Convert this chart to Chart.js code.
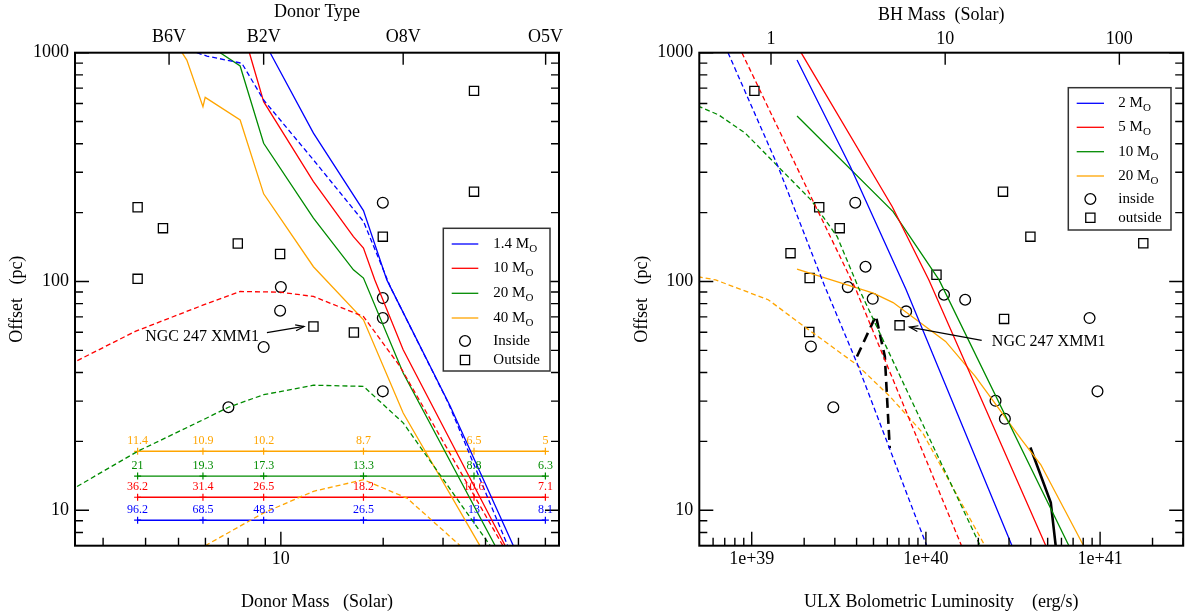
<!DOCTYPE html>
<html>
<head>
<meta charset="utf-8">
<script src="https://cdn.jsdelivr.net/npm/chart.js@4.4.1/dist/chart.umd.min.js"></script>
<style>
  html, body { margin: 0; padding: 0; background: #fff; }
  #wrap { position: relative; width: 1191px; height: 616px; overflow: hidden; }
  canvas { position: absolute; top: 0; }
  #left { left: 0; }
  #right { left: 600px; }
</style>
</head>
<body>
<div id="wrap">
  <canvas id="left" width="600" height="616"></canvas>
  <canvas id="right" width="591" height="616"></canvas>
</div>
<script>
/* ULX offset plots: offset vs donor mass (left), offset vs luminosity (right) */
const FONT = '"Liberation Serif", "Times New Roman", serif';
const BLUE = '#0000ff', RED = '#ff0000', GREEN = '#008b00', ORANGE = '#ffa500';

// ---------- left panel data (donor mass in Msun, offset in pc) ----------
const DONOR_TYPES = ['B6V', 'B2V', 'O8V', 'O5V'];
const DONOR_TYPE_MASS = [4.69, 8.9, 22.9, 60.1];

const ns14Solid  = [[9.3,1000],[12.47,445],[17.5,204],[20.5,101.6],[31.5,28.5],[48.3,7]];
const ns14Dash   = [[5.66,1000],[6.06,967],[7.68,899],[8.9,621],[12.47,340],[17.5,183],[20.97,95],[31.1,29.4],[46.5,7]];
const bh10Solid  = [[8.08,1000],[8.9,611],[12.47,273.5],[16.35,157],[17.5,140],[18.9,101.6],[22.9,50.3],[45.7,7]];
const bh10Dash   = [[2.4,43.5],[3.73,60.5],[5.92,79],[7.59,90.4],[9.95,89.8],[12.47,86],[17.5,70.3],[22.4,42.6],[45,7]];
const bh20Solid  = [[6.63,1000],[7.59,875],[8.9,402],[12.47,189],[16.35,112.5],[17.5,103.5],[22.9,39.8],[42.7,7]];
const bh20Dash   = [[2.4,12.2],[3.79,18.1],[5.92,24.9],[7.01,28.2],[8.9,32],[12.47,35.2],[17.5,34.8],[22.9,24.1],[41.3,7]];
const bh40Solid  = [[5.12,1000],[5.29,929],[5.9,581],[5.99,638],[7.59,508],[8.9,241.6],[12.47,116],[17.5,68],[22.9,26.6],[38.5,7]];
const bh40Dash   = [[5.99,7],[8.9,9.74],[12.47,12.1],[17.5,13.6],[23.5,11.3],[33.7,7]];

const LEVEL_MASS = [3.79, 5.9, 8.9, 17.5, 37, 60];
const LEVEL_OFFSET = [18.1, 14.1, 11.4, 9.05];      // 40, 20, 10, 1.4 Msun rows
const LEVEL_TEXT = [
  ['11.4','10.9','10.2','8.7','6.5','5'],
  ['21','19.3','17.3','13.3','8.8','6.3'],
  ['36.2','31.4','26.5','18.2','10.6','7.1'],
  ['96.2','68.5','48.5','26.5','13','8.1'],
];
const LEVEL_COLORS = [ORANGE, GREEN, RED, BLUE];

const leftOutside = [[3.79,211],[4.5,171],[7.47,146.6],[9.95,131.8],[3.79,102.7],[19.95,157],[37,681],[37,247],[12.47,63.6],[16.4,59.8]];
const leftInside  = [[19.95,221],[10,94.5],[9.95,74.5],[19.95,84.6],[19.95,69.2],[8.9,51.7],[7.01,28.2],[19.95,33.1]];

// ---------- right panel data (luminosity in erg/s, offset in pc) ----------
const LUM_PER_MSUN = 1.29e39;
const m2Solid   = [[1.82e39,929],[3.68e39,318],[7.7e39,92],[31.2e39,7]];
const m5Solid   = [[1.92e39,1000],[6.4e39,212.6],[10.4e39,101.6],[48.8e39,7]];
const m10Solid  = [[1.82e39,529],[6.48e39,202],[11.9e39,101.6],[66.2e39,7]];
const m20Solid  = [[1.82e39,113.3],[4.99e39,89],[6.48e39,80.9],[12.97e39,54.7],[19.2e39,38.5],[35.3e39,20.4],[45.7e39,15.8],[80.4e39,7]];
const m2Dash    = [[0.731e39,1000],[1.416e39,318],[2.6e39,97],[4.02e39,44],[10.1e39,7]];
const m5Dash    = [[0.878e39,1000],[2.186e39,235],[3.93e39,93.6],[16e39,7]];
const m10Dash   = [[0.49e39,585],[0.648e39,534],[0.918e39,445],[1.416e39,318],[2.186e39,227.5],[3.095e39,157],[4.11e39,93.6],[8.05e39,31.5],[20.5e39,7]];
const m20Dash   = [[0.49e39,105],[0.62e39,101.6],[1.243e39,83.2],[2.0e39,63.6],[4.02e39,43.2],[6.2e39,31.5],[9.58e39,21.8],[21.8e39,7]];
const blackDash = [[4.02e39,47],[5.16e39,70.8],[5.81e39,47],[6.2e39,18.7]];
const blackSolid = [[39.8e39,18.8],[52.1e39,10.8],[55.6e39,7]];

const rightOutside = [[1.036e39,681],[2.44e39,211],[3.2e39,171],[1.67e39,133],[2.15e39,103.5],[27.7e39,247],[39.8e39,157],[177e39,147],[11.5e39,107],[2.14e39,60.1],[7.06e39,64.3],[28.1e39,68.6]];
const rightInside  = [[3.93e39,221],[4.5e39,116],[3.56e39,94.5],[4.95e39,84],[7.7e39,74],[12.7e39,87.5],[16.8e39,83.2],[87e39,69.2],[2.186e39,52],[2.94e39,28.2],[25.1e39,30.1],[28.4e39,25.1],[96.6e39,33.1]];

// ---------- axis ranges and ticks ----------
const OFFSET_MIN = 7, OFFSET_MAX = 1000;
const OFFSET_LABELS = [10, 100, 1000];
const OFFSET_MINOR = [8,9,20,30,40,50,60,70,80,90,200,300,400,500,600,700,800,900];
const MASS_MIN = 2.48, MASS_MAX = 65.8;
const MASS_LABELS = [10];
const MASS_MINOR = [3,4,5,6,7,8,9,20,30,40,50,60];
const LUM_MIN = 5e38, LUM_MAX = 3e41;
const LUM_LABELS = [1e39, 1e40, 1e41];
const LUM_MINOR = [6e38,7e38,8e38,9e38,2e39,3e39,4e39,5e39,6e39,7e39,8e39,9e39,2e40,3e40,4e40,5e40,6e40,7e40,8e40,9e40,2e41,3e41];
const BH_LABELS = [1, 10, 100];

const pts = a => a.map(([x, y]) => ({x, y}));

function curve(data, color, dashed, width) {
  return {
    data: pts(data), showLine: true, borderColor: color, backgroundColor: color,
    borderWidth: width || 1.3, borderDash: dashed ? (width ? [10, 6] : [5, 3]) : [],
    pointRadius: 0, tension: 0, clip: 0, xAxisID: 'x', yAxisID: 'y',
  };
}
function marks(data, style) {
  return {
    data: pts(data), showLine: false, pointStyle: style,
    pointRadius: style === 'rect' ? 6.5 : 5.4, borderColor: '#000',
    backgroundColor: 'rgba(0,0,0,0)', pointBorderWidth: 1.3, xAxisID: 'x', yAxisID: 'y',
  };
}
function levelLine(i) {
  return {
    data: LEVEL_MASS.map(m => ({x: m, y: LEVEL_OFFSET[i]})), showLine: true,
    borderColor: LEVEL_COLORS[i], backgroundColor: LEVEL_COLORS[i], borderWidth: 1.4,
    pointStyle: 'cross', pointRadius: 3.5, pointBorderWidth: 1.2, clip: 0, xAxisID: 'x', yAxisID: 'y',
  };
}

// frame + inward ticks
const frameTicks = {
  id: 'frameTicks',
  afterDatasetsDraw(chart, args, o) {
    const {ctx, chartArea: a, scales} = chart;
    ctx.save();
    ctx.strokeStyle = '#000';
    ctx.lineWidth = 1.4;
    ctx.beginPath();
    const seg = (x1, y1, x2, y2) => { ctx.moveTo(x1, y1); ctx.lineTo(x2, y2); };
    o.yMajor.forEach(v => { const y = scales.y.getPixelForValue(v); seg(a.left, y, a.left + 14, y); seg(a.right, y, a.right - 14, y); });
    o.yMinor.forEach(v => { const y = scales.y.getPixelForValue(v); seg(a.left, y, a.left + 8, y); seg(a.right, y, a.right - 8, y); });
    o.xMajor.forEach(v => { const x = scales.x.getPixelForValue(v); seg(x, a.bottom, x, a.bottom - 14); });
    o.xMinor.forEach(v => { const x = scales.x.getPixelForValue(v); seg(x, a.bottom, x, a.bottom - 8); });
    o.topMajor.forEach(v => { const x = scales.x2.getPixelForValue(v); seg(x, a.top, x, a.top + 12); });
    ctx.stroke();
    ctx.lineWidth = 2;
    ctx.strokeRect(a.left, a.top, a.right - a.left, a.bottom - a.top);
    ctx.restore();
  }
};

function subText(ctx, x, y, main, sub) {
  ctx.font = '15px ' + FONT;
  ctx.textAlign = 'left';
  ctx.textBaseline = 'middle';
  ctx.fillText(main, x, y);
  if (sub) {
    const w = ctx.measureText(main).width;
    ctx.font = '11px ' + FONT;
    ctx.fillText(sub, x + w, y + 5);
  }
}

const legendBox = {
  id: 'legendBox',
  afterDraw(chart, args, o) {
    const ctx = chart.ctx;
    const [x0, y0, x1, y1] = o.box;
    ctx.save();
    ctx.fillStyle = '#fff';
    ctx.fillRect(x0, y0, x1 - x0, y1 - y0);
    ctx.strokeStyle = '#333';
    ctx.lineWidth = 1.5;
    ctx.strokeRect(x0, y0, x1 - x0, y1 - y0);
    o.rows.forEach((r, i) => {
      const y = o.rowY[i];
      const cx = (o.lineX[0] + o.lineX[1]) / 2;
      ctx.lineWidth = 1.3;
      if (r.color) {
        ctx.strokeStyle = r.color;
        ctx.beginPath(); ctx.moveTo(o.lineX[0], y); ctx.lineTo(o.lineX[1], y); ctx.stroke();
      } else {
        ctx.strokeStyle = '#000';
        ctx.beginPath();
        if (r.style === 'circle') ctx.arc(cx, y, 5.4, 0, Math.PI * 2);
        else ctx.rect(cx - 4.6, y - 4.6, 9.2, 9.2);
        ctx.stroke();
      }
      ctx.fillStyle = '#000';
      subText(ctx, o.textX, y, r.label, r.sub);
    });
    ctx.restore();
  }
};

function arrow(ctx, x1, y1, x2, y2) {
  ctx.beginPath(); ctx.moveTo(x1, y1); ctx.lineTo(x2, y2); ctx.stroke();
  const a = Math.atan2(y2 - y1, x2 - x1), L = 9, w = 0.33;
  ctx.beginPath();
  ctx.moveTo(x2 - L * Math.cos(a - w), y2 - L * Math.sin(a - w));
  ctx.lineTo(x2, y2);
  ctx.lineTo(x2 - L * Math.cos(a + w), y2 - L * Math.sin(a + w));
  ctx.stroke();
}

// level labels and source annotation
const notes = {
  id: 'notes',
  afterDatasetsDraw(chart, args, o) {
    const {ctx, scales} = chart;
    const X = v => scales.x.getPixelForValue(v), Y = v => scales.y.getPixelForValue(v);
    ctx.save();
    if (o.levels) {
      ctx.font = '12px ' + FONT;
      ctx.textAlign = 'center';
      ctx.textBaseline = 'middle';
      LEVEL_TEXT.forEach((row, i) => {
        ctx.fillStyle = LEVEL_COLORS[i];
        row.forEach((t, j) => ctx.fillText(t, X(LEVEL_MASS[j]), Y(LEVEL_OFFSET[i]) - 10.5));
      });
    }
    const n = o.note;
    ctx.fillStyle = '#000';
    ctx.strokeStyle = '#000';
    ctx.lineWidth = 1.2;
    ctx.font = '16px ' + FONT;
    ctx.textAlign = 'left';
    ctx.textBaseline = 'middle';
    ctx.fillText('NGC 247 XMM1', X(n.text[0]), Y(n.text[1]));
    arrow(ctx, X(n.from[0]), Y(n.from[1]), X(n.to[0]), Y(n.to[1]));
    ctx.restore();
  }
};

const tickFont = {family: FONT, size: 18};
const titleFont = {family: FONT, size: 18};

function logAxis(pos, min, max, labels, fmt, size, titleText, titlePad, pad) {
  const horiz = pos === 'top' || pos === 'bottom';
  return {
    type: 'logarithmic', position: pos, min, max, bounds: 'data',
    grid: {display: false, drawTicks: false}, border: {display: false},
    afterBuildTicks: s => { s.ticks = labels.map(v => ({value: v})); },
    afterFit: s => { if (horiz) s.height = size; else s.width = size; },
    ticks: {autoSkip: false, maxRotation: 0, minRotation: 0, padding: pad, color: '#000', font: tickFont,
            callback: (v, i) => fmt(v, i)},
    title: {display: true, text: titleText, color: '#000', font: titleFont, padding: titlePad},
  };
}

const common = {
  responsive: false, animation: false,
  plugins: {legend: {display: false}, tooltip: {enabled: false}},
};

// ---------- left chart ----------
new Chart(document.getElementById('left'), {
  type: 'scatter',
  data: {
    datasets: [
      curve(ns14Solid, BLUE), curve(ns14Dash, BLUE, true),
      curve(bh10Solid, RED), curve(bh10Dash, RED, true),
      curve(bh20Solid, GREEN), curve(bh20Dash, GREEN, true),
      curve(bh40Solid, ORANGE), curve(bh40Dash, ORANGE, true),
      levelLine(0), levelLine(1), levelLine(2), levelLine(3),
      marks(leftInside, 'circle'), marks(leftOutside, 'rect'),
    ],
  },
  options: {
    ...common,
    layout: {padding: {left: 0, right: 41, top: 0, bottom: 0}},
    scales: {
      x: logAxis('bottom', MASS_MIN, MASS_MAX, MASS_LABELS, v => String(v), 70.3, 'Donor Mass   (Solar)', {top: 0, bottom: 3}, 3),
      x2: logAxis('top', MASS_MIN, MASS_MAX, DONOR_TYPE_MASS, (v, i) => DONOR_TYPES[i], 52.7, 'Donor Type', {top: 1, bottom: 0}, 5),
      y: logAxis('left', OFFSET_MIN, OFFSET_MAX, OFFSET_LABELS, v => String(v), 75, 'Offset   (pc)', {top: 6, bottom: 0}, 6),
    },
    plugins: {
      ...common.plugins,
      frameTicks: {yMajor: OFFSET_LABELS, yMinor: OFFSET_MINOR, xMajor: MASS_LABELS, xMinor: MASS_MINOR, topMajor: DONOR_TYPE_MASS},
      notes: {levels: true, note: {text: [3.99, 57.5], from: [9.1, 59.8], to: [11.7, 63.6]}},
      legendBox: {
        box: [443.3, 228.3, 550, 371], lineX: [451.7, 478.3], textX: 493.3,
        rowY: [244, 268.3, 293.3, 318, 341, 360],
        rows: [
          {color: BLUE, label: '1.4 M', sub: 'O'}, {color: RED, label: '10 M', sub: 'O'},
          {color: GREEN, label: '20 M', sub: 'O'}, {color: ORANGE, label: '40 M', sub: 'O'},
          {style: 'circle', label: 'Inside'}, {style: 'rect', label: 'Outside'},
        ],
      },
    },
  },
  plugins: [frameTicks, notes, legendBox],
});

// ---------- right chart ----------
const expLabel = v => '1e+' + Math.round(Math.log10(v));
new Chart(document.getElementById('right'), {
  type: 'scatter',
  data: {
    datasets: [
      curve(m2Dash, BLUE, true), curve(m5Dash, RED, true),
      curve(m10Dash, GREEN, true), curve(m20Dash, ORANGE, true),
      curve(m2Solid, BLUE), curve(m5Solid, RED),
      curve(m10Solid, GREEN), curve(m20Solid, ORANGE),
      curve(blackDash, '#000', true, 2.6), curve(blackSolid, '#000', false, 2.6),
      marks(rightInside, 'circle'), marks(rightOutside, 'rect'),
    ],
  },
  options: {
    ...common,
    layout: {padding: {left: 0, right: 1, top: 0, bottom: 0}},
    scales: {
      x: logAxis('bottom', LUM_MIN, LUM_MAX, LUM_LABELS, expLabel, 70.3, 'ULX Bolometric Luminosity    (erg/s)', {top: 0, bottom: 3}, 3),
      x2: logAxis('top', LUM_MIN / LUM_PER_MSUN, LUM_MAX / LUM_PER_MSUN, BH_LABELS, v => String(v), 52.7, 'BH Mass  (Solar)', {top: 4, bottom: 0}, 3),
      y: logAxis('left', OFFSET_MIN, OFFSET_MAX, OFFSET_LABELS, v => String(v), 99.3, 'Offset   (pc)', {top: 31, bottom: 0}, 6),
    },
    plugins: {
      ...common.plugins,
      frameTicks: {yMajor: OFFSET_LABELS, yMinor: OFFSET_MINOR, xMajor: LUM_LABELS, xMinor: LUM_MINOR, topMajor: BH_LABELS},
      notes: {levels: false, note: {text: [2.39e40, 54.7], from: [2.09e40, 55.3], to: [8.05e39, 63.2]}},
      legendBox: {
        box: [468.3, 87.7, 571, 230], lineX: [476.7, 504], textX: 518.3,
        rowY: [103.3, 127.3, 151.7, 176, 199, 217.7],
        rows: [
          {color: BLUE, label: '2 M', sub: 'O'}, {color: RED, label: '5 M', sub: 'O'},
          {color: GREEN, label: '10 M', sub: 'O'}, {color: ORANGE, label: '20 M', sub: 'O'},
          {style: 'circle', label: 'inside'}, {style: 'rect', label: 'outside'},
        ],
      },
    },
  },
  plugins: [frameTicks, notes, legendBox],
});
</script>
</body>
</html>
